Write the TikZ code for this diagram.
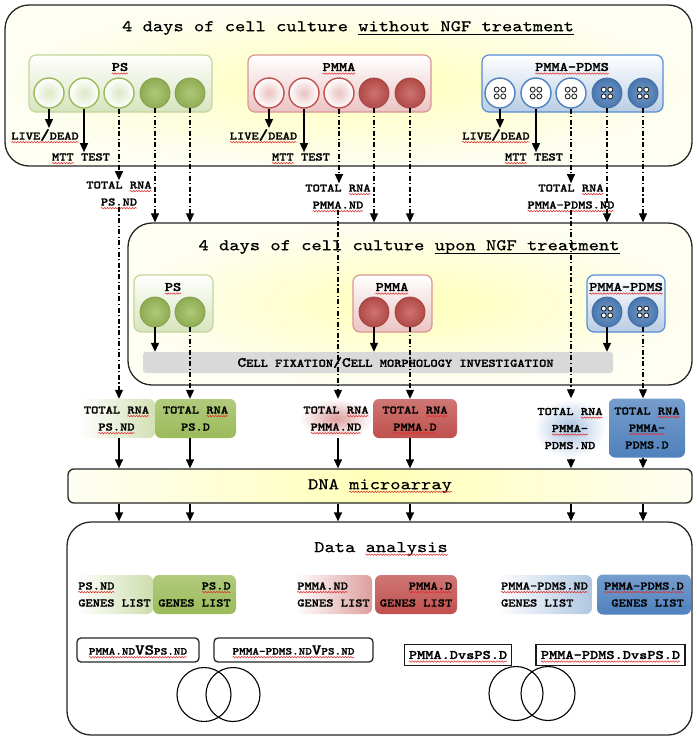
\documentclass[tikz,border=0pt]{standalone}
\usepackage{fontspec}
\newfontfamily\monob{lmmonolt10-bold.otf}[FakeStretch=1.2,FakeBold=1.3]
\newfontfamily\monor{lmmono10-regular.otf}[FakeStretch=1.2,FakeBold=0.6]
\usetikzlibrary{arrows.meta,decorations.pathmorphing,calc}

\definecolor{grn}{HTML}{9BBB59}
\definecolor{grnL}{HTML}{D7E4BD}
\definecolor{grnB}{HTML}{C3D69B}
\definecolor{rd}{HTML}{C0504D}
\definecolor{rdL}{HTML}{EBC4C3}
\definecolor{rdB}{HTML}{D99694}
\definecolor{bl}{HTML}{4F81BD}
\definecolor{blL}{HTML}{B9CDE5}
\definecolor{blB}{HTML}{558ED5}
\definecolor{ylw}{HTML}{FFFFB8}
\definecolor{ylwE}{HTML}{FEFEF2}
\definecolor{barg}{HTML}{D9D9D9}
\definecolor{sqred}{HTML}{E03030}

\newcommand\labf{\monob\fontsize{11.5}{17}\selectfont}
\newcommand\gtf{\monob\fontsize{13}{15}\selectfont}
\newcommand\ttlf{\monor\fontsize{16.3}{20}\selectfont}
\newcommand\cmpf{\monob\fontsize{10.5}{12}\selectfont}
\newcommand\cmpg{\monob\fontsize{13}{15}\selectfont}
\newcommand\vsf{\monob\fontsize{15}{15}\selectfont}
\newcommand\slashf{\fontsize{15}{17}\selectfont}
\newcommand\scsm{\monob\fontsize{11.5}{14}\selectfont}
\newcommand\scbig{\fontsize{14}{14}\selectfont}

\tikzset{
  sqreset/.style={shape=rectangle, inner sep=0pt, outer sep=0pt, minimum width=0pt, minimum height=0pt, font=, anchor=base},
  bigbox/.style={draw=black!85, line width=1.3pt, rounded corners=24pt, inner sep=0pt, inner color=ylw, outer color=ylwE},
  grp/.style={draw=#1B, line width=1.2pt, rounded corners=7pt, inner sep=0pt, top color=white, bottom color=#1L},
  ocirc/.style={circle, draw=#1, line width=1.4pt, minimum size=30pt, inner sep=0pt, inner color=#1!35, outer color=white},
  fcirc/.style={circle, draw=#1!85!black, line width=0.8pt, minimum size=30pt, inner sep=0pt, inner color=#1!80, outer color=#1!92!black},
  lab/.style={font=\labf, inner sep=1pt, align=center},
  gt/.style={font=\gtf, inner sep=1pt},
  ttl/.style={font=\ttlf, inner sep=1pt},
  arr/.style={-{Triangle[length=9pt,width=8pt]}, line width=1.3pt, draw=black},
  dda/.style={arr, line width=1.1pt, dash pattern=on 5pt off 2.5pt on 1.2pt off 2.5pt},
  fade/.style={lab, rounded corners=6pt, inner sep=2pt},
  fadeLR/.style={fade, left color=white, right color=#1},
  fadeRad/.style={fade, inner color=#1, outer color=white},
  sol/.style={lab, rounded corners=6pt, inner sep=2pt, top color=#1!78, bottom color=#1},
  fixbar/.style={fill=barg, rounded corners=3pt, inner sep=0pt, font=\scsm},
  dnabar/.style={draw=black!85, line width=1.3pt, rounded corners=6pt, left color=ylwE, right color=ylwE, middle color=ylw, font=\ttlf, inner sep=0pt},
  dabox/.style={draw=black!85, line width=1.3pt, rounded corners=24pt, fill=white, inner sep=0pt},
  cmpr/.style={draw=black!85, line width=1.3pt, rounded corners=4pt, fill=white, font=\cmpf, inner sep=0pt},
  cmps/.style={draw=black!90, line width=1.7pt, fill=white, font=\cmpg, inner sep=0pt},
  venn/.style={circle, draw=black, line width=1.1pt, minimum size=54pt, inner sep=0pt},
  eight/.pic={\foreach \dx/\dy in {-3.3/-3.4,3.3/-3.4,-3.3/3.4,3.3/3.4} \draw[line width=0.9pt, draw=black!85, fill=white] (\dx,\dy) circle (2.5);}
}

\newcommand\sqw[1]{\tikz[baseline=(sqq.base)]{\node[sqreset] (sqq) {#1};\draw[overlay, sharp corners, solid, draw=sqred, line width=0.55pt, decorate, decoration={snake, amplitude=0.7pt, segment length=2.8pt}] ([yshift=-2.6pt]sqq.base west) -- ([yshift=-2.6pt]sqq.base east);}}
\newcommand\ulk[1]{\tikz[baseline=(ulq.base)]{\node[sqreset] (ulq) {#1};\draw[overlay, sharp corners, solid, draw=black, line width=1.2pt] ([yshift=-3pt]ulq.base west) -- ([yshift=-3pt]ulq.base east);}}

\begin{document}
\begin{tikzpicture}[x=1pt,y=-1pt]
\useasboundingbox (0,0) rectangle (697,740);

% ---------- box 1
\node[bigbox, minimum width=687pt, minimum height=161pt] (B1) at (348.5,85.5) {};
\node[ttl] (T1) at (348,28) {4 days of cell culture \ulk{without NGF treatment}};
\node[grp=grn, minimum width=183pt, minimum height=57pt] (GA) at (120.5,83.5) {};
\node[grp=rd, minimum width=183pt, minimum height=57pt] (GB) at (339.5,83.5) {};
\node[grp=bl, minimum width=181pt, minimum height=57pt] (GC) at (572.5,83.5) {};
\node[gt] (GAt) at (120,67) {\sqw{PS}};
\node[gt] (GBt) at (339,67) {\sqw{PMMA}};
\node[gt] (GCt) at (572,67) {\sqw{PMMA-PDMS}};

\foreach \i/\x in {1/49,2/84,3/119}{\node[ocirc=grn] (cA\i) at (\x,93) {};}
\foreach \i/\x in {4/155,5/190}{\node[fcirc=grn] (cA\i) at (\x,93) {};}
\foreach \i/\x in {1/269,2/304,3/339}{\node[ocirc=rd] (cB\i) at (\x,93) {};}
\foreach \i/\x in {4/374,5/410}{\node[fcirc=rd] (cB\i) at (\x,93) {};}
\foreach \i/\x in {1/500,2/536,3/571}{\node[ocirc=bl, inner color=white] (cC\i) at (\x,93) {}; \pic at (cC\i) {eight};}
\foreach \i/\x in {4/607,5/643}{\node[fcirc=bl] (cC\i) at (\x,93) {}; \pic at (cC\i) {eight};}

\node[lab] (ldA) at (45,135) {\sqw{LIVE{\slashf/}DEAD}};
\node[lab] (mtA) at (81,157) {\sqw{MTT} TEST};
\node[lab] (rnA) at (119,193.5) {TOTAL \sqw{RNA}\\\sqw{PS.ND}};
\node[lab] (ldB) at (263.5,135) {\sqw{LIVE{\slashf/}DEAD}};
\node[lab] (mtB) at (301,157) {\sqw{MTT} TEST};
\node[lab] (rnB) at (338,196.5) {TOTAL \sqw{RNA}\\\sqw{PMMA.ND}};
\node[lab] (ldC) at (496,135) {\sqw{LIVE{\slashf/}DEAD}};
\node[lab] (mtC) at (534,157) {\sqw{MTT} TEST};
\node[lab] (rnC) at (571,196.5) {TOTAL \sqw{RNA}\\\sqw{PMMA-PDMS.ND}};

% ---------- box 2
\node[bigbox, minimum width=564pt, minimum height=162pt] (B2) at (410,304) {};
\node[ttl] (T2) at (409,247) {4 days of cell culture \ulk{upon NGF treatment}};
\node[grp=grn, minimum width=79pt, minimum height=57pt] (GD) at (173.5,303.5) {};
\node[grp=rd, minimum width=79pt, minimum height=57pt] (GE) at (392.5,303.5) {};
\node[grp=bl, minimum width=78pt, minimum height=57pt] (GF) at (626,303.5) {};
\node[gt] (GDt) at (173,287) {\sqw{PS}};
\node[gt] (GEt) at (392,287) {\sqw{PMMA}};
\node[gt] (GFt) at (626,287) {\sqw{PMMA-PDMS}};
\node[fcirc=grn] (dA1) at (155,312) {};
\node[fcirc=grn] (dA2) at (190,312) {};
\node[fcirc=rd] (dB1) at (374,312) {};
\node[fcirc=rd] (dB2) at (410,312) {};
\node[fcirc=bl] (dC1) at (607,312) {}; \pic at (dC1) {eight};
\node[fcirc=bl] (dC2) at (643,312) {}; \pic at (dC2) {eight};

\node[fixbar, minimum width=470pt, minimum height=21pt] (FIX) at (378,362.5)
  {\hspace*{35pt}{\scbig C}ELL FIXATION{\scbig /C}ELL MORPHOLOGY INVESTIGATION};

% ---------- total RNA boxes
\node[fadeLR=grn!45, minimum width=77pt, minimum height=39pt] (tA1) at (116.5,418.5) {TOTAL \sqw{RNA}\\\sqw{PS.ND}};
\node[sol=grn, minimum width=81pt, minimum height=39pt] (tA2) at (195.5,418.5) {TOTAL \sqw{RNA}\\PS.D};
\node[fadeRad=rd!55, minimum width=74pt, minimum height=39pt] (tB1) at (336,418.5) {TOTAL \sqw{RNA}\\\sqw{PMMA.ND}};
\node[sol=rd, minimum width=84pt, minimum height=39pt] (tB2) at (415,418.5) {TOTAL \sqw{RNA}\\\sqw{PMMA.D}};
\node[fadeRad=bl!50, minimum width=72pt, minimum height=60pt] (tC1) at (570,428.5) {TOTAL \sqw{RNA}\\\sqw{PMMA-}\\PDMS.ND};
\node[sol=bl, minimum width=76pt, minimum height=59pt] (tC2) at (647,428) {TOTAL \sqw{RNA}\\\sqw{PMMA-}\\PDMS.D};

% ---------- DNA microarray
\node[dnabar, minimum width=624pt, minimum height=34pt] (DNA) at (380,486) {DNA \sqw{microarray}};

% ---------- data analysis
\node[dabox, minimum width=625pt, minimum height=213pt] (DA) at (379.5,628.5) {};
\node[ttl] (T3) at (381,549) {Data \sqw{analysis}};

\node[fadeLR=grn!50, align=left, minimum width=77pt, minimum height=39pt] (gA1) at (114.5,594.5) {\sqw{PS.ND}\\GENES LIST};
\node[sol=grn, align=right, minimum width=83pt, minimum height=39pt] (gA2) at (194.5,594.5) {\sqw{PS.D}\\GENES LIST};
\node[fadeLR=rd!55, align=left, minimum width=77pt, minimum height=39pt] (gB1) at (333.5,594.5) {\sqw{PMMA.ND}\\GENES LIST};
\node[sol=rd, align=right, minimum width=82pt, minimum height=39pt] (gB2) at (416,594.5) {\sqw{PMMA.D}\\GENES LIST};
\node[fadeLR=bl!45, align=left, minimum width=95pt, minimum height=39pt] (gC1) at (544.5,594.5) {\sqw{PMMA-PDMS.ND}\\GENES LIST};
\node[sol=bl, align=right, minimum width=94pt, minimum height=40pt] (gC2) at (644,594.5) {\sqw{PMMA-PDMS.D}\\GENES LIST};

\node[cmpr, minimum width=122pt, minimum height=24pt] (k1) at (138,650) {\sqw{PMMA.ND{\vsf VS}PS.ND}};
\node[cmpr, minimum width=159pt, minimum height=24pt] (k2) at (293.5,650) {\sqw{PMMA-PDMS.ND{\vsf V}PS.ND}};
\node[cmps, minimum width=107pt, minimum height=21pt] (k3) at (458,655) {\sqw{PMMA.DvsPS.D}};
\node[cmps, minimum width=149pt, minimum height=21pt] (k4) at (610.5,655) {\sqw{PMMA-PDMS.DvsPS.D}};

\node[venn] (v1) at (204,694.5) {};
\node[venn] (v2) at (233,694.5) {};
\node[venn] (v3) at (516,693.5) {};
\node[venn] (v4) at (548,693.5) {};

% ---------- connectors, box 1
\draw[arr] (cA1.south) -- (cA1.south |- ldA.north);
\draw[arr] (cA2.south) -- (cA2.south |- mtA.north);
\draw[dda] (cA3.south) -- (cA3.south |- rnA.north);
\draw[dda] (cA4.south) -- (cA4.south |- B2.north);
\draw[dda] (cA5.south) -- (cA5.south |- B2.north);
\draw[arr] (cB1.south) -- (cB1.south |- ldB.north);
\draw[arr] (cB2.south) -- (cB2.south |- mtB.north);
\draw[dda] (cB3.south) -- (cB3.south |- rnB.north);
\draw[dda] (cB4.south) -- (cB4.south |- B2.north);
\draw[dda] (cB5.south) -- (cB5.south |- B2.north);
\draw[arr] (cC1.south) -- (cC1.south |- ldC.north);
\draw[arr] (cC2.south) -- (cC2.south |- mtC.north);
\draw[dda] (cC3.south) -- (cC3.south |- rnC.north);
\draw[dda] (cC4.south) -- (cC4.south |- B2.north);
\draw[dda] (cC5.south) -- (cC5.south |- B2.north);
\draw[dda] (rnA.south) -- (rnA.south |- tA1.north);
\draw[dda] (rnB.south) -- (rnB.south |- tB1.north);
\draw[dda] (rnC.south) -- (rnC.south |- tC1.north);

% ---------- connectors, box 2
\draw[arr] (dA1.south) -- (dA1.south |- FIX.north);
\draw[arr] (dB1.south) -- (dB1.south |- FIX.north);
\draw[arr] (dC1.south) -- (dC1.south |- FIX.north);
\draw[dda] (dA2.south) -- (dA2.south |- tA2.north);
\draw[dda] (dB2.south) -- (dB2.south |- tB2.north);
\draw[dda] (dC2.south) -- (dC2.south |- tC2.north);

% ---------- connectors, lower part
\foreach \t/\c in {tA1/rnA,tA2/dA2,tB1/rnB,tB2/dB2,tC1/rnC,tC2/dC2}{
  \draw[arr] (\c |- \t.south) -- (\c |- DNA.north);
  \draw[arr] (\c |- DNA.south) -- (\c |- DA.north);
}
\end{tikzpicture}
\end{document}
